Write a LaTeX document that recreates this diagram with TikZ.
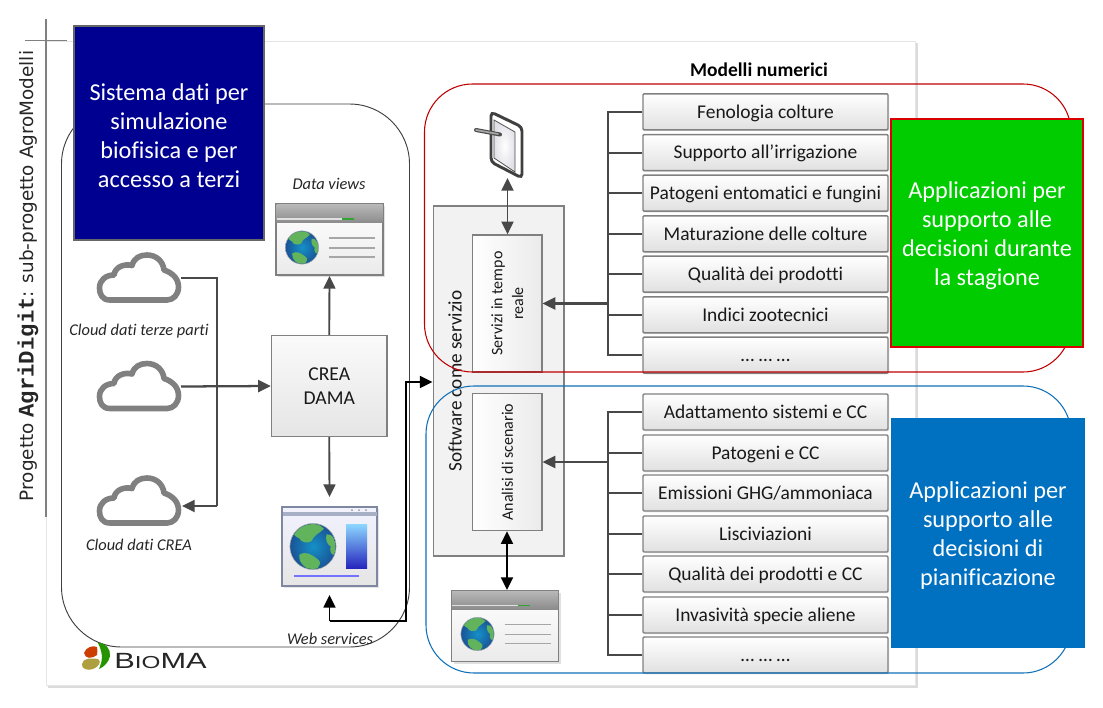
\documentclass[tikz,border=0pt]{standalone}
\usepackage{fontspec}
\setmainfont{Carlito}[Ligatures=NoCommon]
\newfontfamily\dejafont{DejaVu Sans}
\newfontfamily\monofont{Liberation Mono}
\newfontfamily\logofont{Liberation Sans}
\usetikzlibrary{arrows.meta,shadows,calc}
\definecolor{navybox}{HTML}{000090}
\definecolor{greenbox}{HTML}{00CC00}
\definecolor{bluebox}{HTML}{0070C0}
\definecolor{linegray}{HTML}{484848}
\definecolor{boxgray}{HTML}{808080}
\definecolor{redline}{HTML}{C00000}
\definecolor{blueline}{HTML}{1070B8}
\definecolor{earthgreen}{HTML}{62B45C}
\definecolor{earthblue}{HTML}{1E62B0}
\definecolor{webedge}{HTML}{7F88A0}
\definecolor{webbar}{HTML}{A8B0C6}
\tikzset{
  x=0.75pt,y=-0.75pt,
  modelbox/.style={draw=boxgray,line width=1.1pt,rounded corners=0.8pt,top color=white,bottom color=black!12,
    minimum width=183.75pt,minimum height=27pt,inner sep=0pt,font=\fontsize{14.6pt}{16pt}\selectfont,text=black!90,
    text height=12.4pt,text depth=3pt,
    drop shadow={shadow xshift=1pt,shadow yshift=-1pt,fill=black!12,opacity=.6}},
  sidebox/.style={draw=boxgray,line width=1pt,left color=white,right color=black!8,inner sep=0pt,
    minimum width=52pt,minimum height=102.75pt},
  bigbox/.style={line width=0.9pt,inner sep=0pt,text=white,align=center,
    font=\fontsize{18.2pt}{21.75pt}\selectfont},
  note/.style={font=\fontsize{12.3pt}{14pt}\itshape\selectfont,text=black!85,inner sep=0pt},
  wire/.style={draw=linegray,line width=1.7pt},
  thinwire/.style={draw=linegray,line width=1.4pt},
  tip/.style={-{Triangle[length=9.5pt,width=9pt]}},
  tiptwo/.style={{Triangle[length=9.5pt,width=9pt]}-{Triangle[length=9.5pt,width=9pt]}},
  cloud pic/.pic={
    \draw[draw=boxgray,line width=4.2pt,line join=round,fill=white]
      (13,48) .. controls (5,48) and (2.5,42) .. (2.5,36)
      .. controls (2.5,28) and (9,23) .. (17,23)
      .. controls (18,15) and (27,11.5) .. (35,13.5)
      .. controls (37,6) and (43,3) .. (50,3)
      .. controls (59,3) and (66,9) .. (67,18)
      .. controls (76,21) and (81.5,27) .. (81.5,35)
      .. controls (81.5,43) and (76,48) .. (70,48) -- cycle;
    \coordinate (-e) at (84,26);
    \coordinate (-f) at (85,31);
  },
  globe pic/.pic={
    \shade[inner color=earthblue!70!cyan,outer color=earthblue!85!black] (0,0) circle (17);
    \begin{scope}
      \clip (0,0) circle (16.5);
      \fill[earthgreen] (-14,-12) .. controls (-6,-19) and (4,-18) .. (8,-13)
        .. controls (4,-9) and (1,-9) .. (-1,-4) .. controls (-4,-2) and (-9,-3) .. (-10,-6)
        .. controls (-13,-7) and (-15,-9) .. (-14,-12) -- cycle;
      \fill[earthgreen] (-10,6) .. controls (-5,3) and (-1,6) .. (3,9)
        .. controls (7,11) and (5,15) .. (1,18) .. controls (-4,17) and (-11,13) .. (-10,6) -- cycle;
      \fill[earthgreen] (10,-9) .. controls (14,-10) and (18,-4) .. (17,6)
        .. controls (13,7) and (12,3) .. (13,0) .. controls (10,-2) and (9,-5) .. (10,-9) -- cycle;
    \end{scope}
    \draw[black!30,line width=.4pt] (0,0) circle (17);
  },
  gray window/.pic={
    \fill[black!12] (2,2) rectangle (109,73);
    \draw[draw=boxgray,line width=.9pt,top color=white,bottom color=black!8] (0,0) rectangle (107,71);
    \shade[top color=black!28,bottom color=black!45] (0.5,0.5) rectangle (106.5,18.5);
    \draw[white!88!black,line width=.8pt] (0.5,15) -- (66,15);
    \draw[green!55!black!80!white,line width=.9pt] (66,15) -- (78,15);
    \pic[scale=0.98] at (26,43.5) {globe pic};
    \draw[black!35,line width=.8pt] (53,34) -- (99,34) (53,44) -- (99,44) (53,53) -- (99,53);
  },
}
\begin{document}
\begin{tikzpicture}
\useasboundingbox (0,0) rectangle (1103,707);
% outer panel
\fill[black!14] (48,43) rectangle (917.5,688);
\draw[draw=black!10,fill=white,line width=.7pt] (46,41) rectangle (915,685.5);
\draw[draw=boxgray,line width=.9pt] (46,19) -- (46,517);
\draw[draw=boxgray,line width=.7pt] (25,40) -- (67,40);

% title on the left
\node[rotate=90,inner sep=0pt,text=black!85] (title) at (28,276)
  {\dejafont\fontsize{13.8pt}{15pt}\selectfont Progetto {\monofont\bfseries\fontsize{16.7pt}{15pt}\selectfont AgriDigit}: sub-progetto AgroModelli};

% software as a service
\node[draw=boxgray,line width=1pt,fill=black!5,minimum width=97.9pt,minimum height=262.5pt,inner sep=0pt] (sw) at (498.75,381) {};
\node[rotate=90,font=\fontsize{14.4pt}{16pt}\selectfont,text=black!90,inner sep=0pt] (swlabel) at (455,381) {Software come servizio};
\node[sidebox] (serv) at (507.25,303.5) {};
\node[rotate=90,align=center,font=\fontsize{12pt}{15.6pt}\selectfont,text=black!90,inner sep=0pt] (servlabel) at (507.25,303.5) {Servizi in tempo\\reale};
\node[sidebox] (anal) at (507.25,462) {};
\node[rotate=90,font=\fontsize{12pt}{14pt}\selectfont,text=black!90,inner sep=0pt] (anallabel) at (507.25,462) {Analisi di scenario};

% numerical models
\node[font=\fontsize{14.6pt}{16pt}\bfseries\selectfont,inner sep=0pt] (mn) at (759,70) {Modelli numerici};
\node[modelbox] (a1) at (765.5,111.8) {Fenologia colture};
\node[modelbox] (a2) at (765.5,152.6) {Supporto all’irrigazione};
\node[modelbox] (a3) at (765.5,193.2) {Patogeni entomatici e fungini};
\node[modelbox] (a4) at (765.5,233.8) {Maturazione delle colture};
\node[modelbox] (a5) at (765.5,274.2) {Qualità dei prodotti};
\node[modelbox] (a6) at (765.5,314.8) {Indici zootecnici};
\node[modelbox] (a7) at (765.5,355.2) {… … …};
\node[modelbox] (b1) at (765.5,412) {Adattamento sistemi e CC};
\node[modelbox] (b2) at (765.5,453) {Patogeni e CC};
\node[modelbox] (b3) at (765.5,493) {Emissioni GHG/ammoniaca};
\node[modelbox] (b4) at (765.5,534) {Lisciviazioni};
\node[modelbox] (b5) at (765.5,574) {Qualità dei prodotti e CC};
\node[modelbox] (b6) at (765.5,615) {Invasività specie aliene};
\node[modelbox] (b7) at (765.5,655) {… … …};

% trunks
\coordinate (ta) at (608,303.5);
\coordinate (tb) at (608,462);
\draw[wire] (a1.west) -| (ta) (a7.west) -| (ta);
\foreach \n in {a2,a3,a4,a5,a6} \draw[thinwire] (\n.west) -- (\n.west -| ta);
\draw[wire,tip] (ta) -- (serv.east);
\draw[wire] (b1.west) -| (tb) (b7.west) -| (tb);
\foreach \n in {b2,b3,b4,b5,b6} \draw[thinwire] (\n.west) -- (\n.west -| tb);
\draw[thinwire,tip] (tb) -- (anal.east);

% group outlines
\draw[redline,line width=.8pt,rounded corners=36pt] (424.5,84) rectangle (1071,372);
\draw[blueline,line width=.8pt,rounded corners=36pt] (426,386) rectangle (1071,673);
\draw[black!75,line width=.7pt,rounded corners=45pt] (61.5,104) rectangle (409.5,647);

% coloured boxes
\node[bigbox,draw=black!60,fill=navybox,minimum width=142.5pt,minimum height=160.5pt] (sis) at (169,133)
  {\rule{0pt}{16pt}Sistema dati per\\simulazione\\biofisica e per\\accesso a terzi};
\node[bigbox,draw=red!85!black,fill=greenbox,minimum width=144pt,minimum height=171pt] (green) at (987,233)
  {\rule{0pt}{16pt}Applicazioni per\\supporto alle\\decisioni durante\\la stagione};
\node[bigbox,fill=bluebox,minimum width=145.5pt,minimum height=172.5pt] (blue) at (988,533)
  {\rule{0pt}{16pt}Applicazioni per\\supporto alle\\decisioni di\\pianificazione};

% clouds
\pic (c1) at (97,252) {cloud pic};
\pic (c2) at (97,360.5) {cloud pic};
\pic (c3) at (97,475) {cloud pic};
\node[note] (l1) at (139,331) {Cloud dati terze parti};
\node[note] (l3) at (139,545) {Cloud dati CREA};

% CREA DAMA
\node[draw=boxgray,line width=1pt,top color=black!2,bottom color=black!10,minimum width=86.6pt,minimum height=75.75pt,inner sep=0pt,align=center,
  font=\fontsize{14.7pt}{18pt}\selectfont,text=black!90] (dama) at (329.25,386) {CREA\\DAMA};

% windows
\pic at (276,204) {gray window};
\coordinate (dv) at (329.5,276);
\node[note] (l2) at (329,184) {Data views};
\pic at (451.5,590.5) {gray window};
\coordinate (wb) at (507,590);

% web window
\fill[black!10] (284,508.5) rectangle (379,588);
\draw[draw=webedge,line width=1.5pt,top color=blue!5,bottom color=black!10] (282,506.5) rectangle (377,585.5);
\fill[webbar] (282.5,512) rectangle (376.5,516);
\fill[black!40] (352,510) circle (1) (359,510) circle (1) (366,510) circle (1);
\shade[top color=blue!35!cyan!45,bottom color=blue!70!black!85] (346,524) rectangle (367,568);
\draw[blue!55!white,line width=1pt] (294,576) -- (359,576);
\pic[scale=1.36] at (313,546.5) {globe pic};
\coordinate (wtop) at (329.5,497);
\coordinate (wbot) at (329.5,595);
\node[note] (l4) at (330,639) {Web services};

% tablet
\draw[draw=black!75,line width=2.2pt,rounded corners=3pt,fill=white] (491,112) -- (522,127) -- (522,178) -- (491,162) -- cycle;
\shade[draw=black!70,line width=.6pt,inner color=white,outer color=blue!25!black!12] (494,120) -- (515,132) -- (515,172) -- (494,158) -- cycle;
\draw[black!70,line width=3pt,line cap=round] (476,130) -- (500,134.5);
\draw[black!35,line width=1.3pt,line cap=round] (476,130) -- (498,134);
\coordinate (tab) at (507.5,178);

% connectors
\draw[thinwire] (c1-e) -| (217,506) coordinate (cc);
\draw[thinwire,tip] (cc) -- (c3-f);
\draw[wire,tip] (c2-e) -- (dama.west);
\draw[thinwire,tip] (dama.north) -- (dv);
\draw[thinwire,tip] (dama.south) -- (wtop);
\coordinate (ws) at (432.5,382);
\draw[draw=black,line width=1.2pt,tip] (wbot |- 0,621) -- (406,621) -- (406,382) -- (ws);
\draw[draw=black,line width=1.2pt,tip] (wbot |- 0,621) -- (wbot);
\draw[thinwire,tiptwo] (tab) -- (serv.north -| tab);
\draw[draw=black,line width=1.4pt,tiptwo] (anal.south -| wb) -- (wb);

% BioMA logo
\fill[orange!60!red!80!black] (84,653) .. controls (86,647) and (93,645) .. (97,647) .. controls (99,650) and (96,652) .. (97,655) .. controls (92,659) and (85,659) .. (84,653) -- cycle;
\fill[yellow!60!black!90!orange] (82,664) .. controls (83,658) and (90,658) .. (98,659) .. controls (102,661) and (99,667) .. (93,669) .. controls (88,671) and (81,669) .. (82,664) -- cycle;
\fill[green!50!black!85!yellow] (98,643) .. controls (105,642) and (111,649) .. (110,656) .. controls (109,662) and (104,667) .. (99,669) .. controls (102,662) and (104,655) .. (98,643) -- cycle;
\node[inner sep=0pt,anchor=west,xscale=1.4,text=black!85] (logo) at (114,661) {\logofont\fontsize{16.5pt}{17pt}\selectfont B{\fontsize{13pt}{17pt}\selectfont IO}MA};
\end{tikzpicture}
\end{document}
